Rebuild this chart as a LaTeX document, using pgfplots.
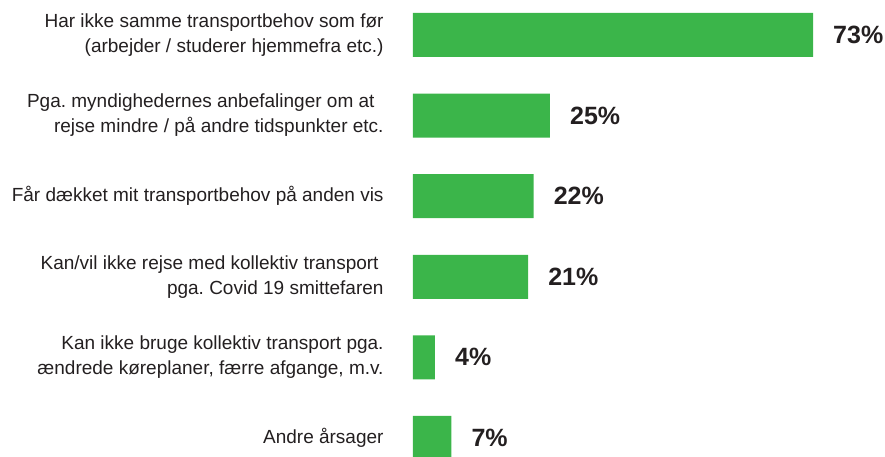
\documentclass[border=0pt]{standalone}
\usepackage{fontspec}
\setmainfont{Liberation Sans}
\usepackage{pgfplots}
\pgfplotsset{compat=1.18}
\definecolor{bargreen}{HTML}{3BB54A}
\definecolor{txt}{HTML}{231F20}
\frenchspacing
\begin{document}
\begin{tikzpicture}
\begin{axis}[
  scale only axis,
  width=472bp, height=457bp,
  xmin=0, xmax=86.13,
  ymin=-0.236, ymax=5.434,
  xbar, bar width=44bp,
  axis line style={draw=none},
  tick style={draw=none},
  xtick=\empty,
  ytick={0,1,2,3,4,5},
  yticklabels={
    {Andre årsager},
    {Kan ikke bruge kollektiv transport pga.\\ændrede køreplaner, færre afgange, m.v.},
    {Kan/vil ikke rejse med kollektiv transport\rule{5bp}{0pt}\\pga. Covid 19 smittefaren},
    {Får dækket mit transportbehov på anden vis},
    {Pga. myndighedernes anbefalinger om at\rule{9bp}{0pt}\\rejse mindre / på andre tidspunkter etc.},
    {Har ikke samme transportbehov som før\\(arbejder / studerer hjemmefra etc.)}
  },
  yticklabel style={align=right, inner sep=0pt, xshift=-25bp, text=txt,
    font=\fontsize{19bp}{25bp}\selectfont\frenchspacing},
  nodes near coords={\pgfmathprintnumber[assume math mode=true]{\pgfplotspointmeta}\%},
  point meta=x,
  every node near coord/.append style={anchor=west, inner sep=0pt, xshift=20bp,
    text=txt, font=\bfseries\fontsize{25bp}{25bp}\selectfont},
  clip=false,
]
\addplot[fill=bargreen, draw=none] coordinates {
  (7,0) (4,1) (21,2) (22,3) (25,4) (73,5)
};
\coordinate (BL) at (rel axis cs:0,0);
\coordinate (TR) at (rel axis cs:1,1);
\end{axis}
\pgfresetboundingbox
\path[use as bounding box] ([xshift=-413bp]BL) rectangle (TR);
\end{tikzpicture}
\end{document}
